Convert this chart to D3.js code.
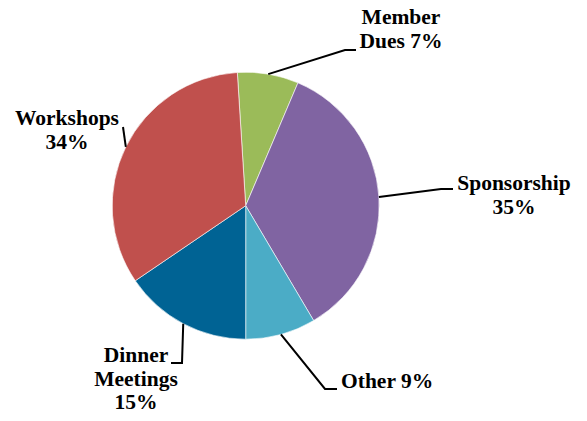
<!DOCTYPE html>
<html>
<head>
<meta charset="utf-8">
<script src="https://cdn.jsdelivr.net/npm/d3@7"></script>
<style>
  html, body { margin: 0; padding: 0; background: #fff; }
  svg { display: block; }
  .lbl { font-family: "Times New Roman", "Liberation Serif", serif; font-weight: bold; font-size: 21.5px; fill: #000; }
  .leader { fill: none; stroke: #000; stroke-width: 2; }
</style>
</head>
<body>
<div id="chart"></div>
<script>
  /* -----------------------
      DATA
   -------------------------- */
  var categories = ['Member Dues', 'Sponsorship', 'Other', 'Dinner Meetings', 'Workshops'];
  var values = [7.4, 35.1, 8.5, 15.5, 33.5];
  var percentLabels = ['7%', '35%', '9%', '15%', '34%'];
  var colors = ['#9BBB59', '#8064A2', '#4BACC6', '#006394', '#C0504D'];

  /* -----------------------
      LAYOUT
   -------------------------- */
  var width = 587, height = 421;
  var cx = 245.7, cy = 205.7, radius = 133.5;
  var startDeg = -3.6;

  // label text lines, anchor point and leader bend (in px, relative to svg)
  var labelLayout = [
    { lines: ['Member', 'Dues 7%'], x: 401, y: 24, anchor: 'middle', bend: [[345, 50], [356, 50]] },
    { lines: ['Sponsorship', '35%'], x: 514, y: 190, anchor: 'middle', bend: [[441, 189], [453, 189]] },
    { lines: ['Other 9%'], x: 341, y: 388, anchor: 'start', bend: [[325, 389], [337, 389]] },
    { lines: ['Dinner', 'Meetings', '15%'], x: 136, y: 362, anchor: 'middle', bend: [[182, 363], [171, 363]] },
    { lines: ['Workshops', '34%'], x: 67, y: 125, anchor: 'middle', bend: [[123, 127]] }
  ];

  var svg = d3.select('#chart').append('svg')
    .attr('width', width)
    .attr('height', height);

  var g = svg.append('g')
    .attr('transform', 'translate(' + cx + ',' + cy + ')');

  var startRad = startDeg * Math.PI / 180;

  var pie = d3.pie()
    .sort(null)
    .value(function(d) { return d; })
    .startAngle(startRad)
    .endAngle(startRad + 2 * Math.PI);

  var arc = d3.arc()
    .innerRadius(0)
    .outerRadius(radius);

  var arcs = pie(values);

  //-- SLICES
  g.selectAll('path.slice')
    .data(arcs)
    .enter().append('path')
    .attr('class', 'slice')
    .attr('d', arc)
    .attr('fill', function(d, i) { return colors[i]; })
    .attr('stroke', '#fff')
    .attr('stroke-width', 0.6);

  //-- LEADER LINES
  svg.selectAll('path.leader')
    .data(arcs)
    .enter().append('path')
    .attr('class', 'leader')
    .attr('d', function(d, i) {
      var mid = (d.startAngle + d.endAngle) / 2;
      var p0 = [cx + radius * Math.sin(mid), cy - radius * Math.cos(mid)];
      return d3.line()([p0].concat(labelLayout[i].bend));
    });

  //-- LABELS
  var lineH = 23.5;
  svg.selectAll('text.lbl')
    .data(arcs)
    .enter().append('text')
    .attr('class', 'lbl')
    .attr('text-anchor', function(d, i) { return labelLayout[i].anchor; })
    .each(function(d, i) {
      var L = labelLayout[i];
      d3.select(this).selectAll('tspan')
        .data(L.lines)
        .enter().append('tspan')
        .attr('x', L.x)
        .attr('y', function(t, j) { return L.y + j * lineH; })
        .text(function(t) { return t; });
    });
</script>
</body>
</html>
